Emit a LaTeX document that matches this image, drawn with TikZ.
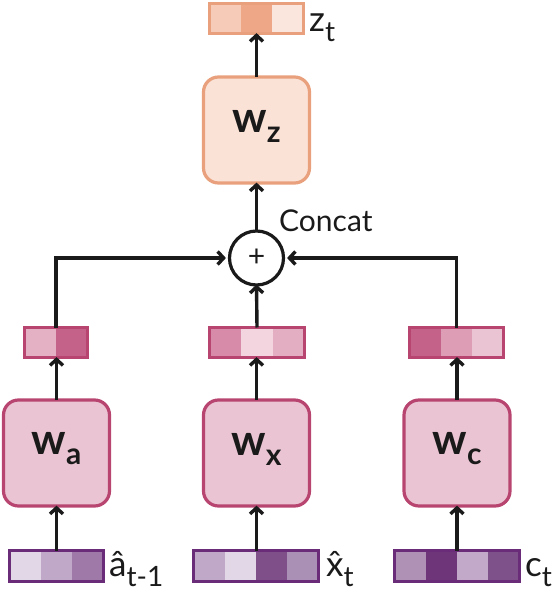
\documentclass[tikz,border=0pt]{standalone}
\usepackage{fontspec}
\setmainfont{Lato}
\usetikzlibrary{arrows.meta}
\definecolor{orb}{HTML}{E9A07C}
\definecolor{orf}{HTML}{FBE2D7}
\definecolor{zA}{HTML}{F6CCB8}
\definecolor{zB}{HTML}{EEA888}
\definecolor{zC}{HTML}{FBE6DD}
\definecolor{pkb}{HTML}{B8456F}
\definecolor{pkf}{HTML}{EAC4D2}
\definecolor{aA}{HTML}{E4B0C3}
\definecolor{aB}{HTML}{C4628A}
\definecolor{xA}{HTML}{D88BA9}
\definecolor{xB}{HTML}{F3D5E0}
\definecolor{xC}{HTML}{E4AEC2}
\definecolor{cA}{HTML}{C5628A}
\definecolor{cB}{HTML}{DC9DB5}
\definecolor{cC}{HTML}{EBC4D3}
\definecolor{pub}{HTML}{6A2C79}
\definecolor{iA}{HTML}{E1D7E7}
\definecolor{iB}{HTML}{BFA8C8}
\definecolor{iC}{HTML}{9F7AA9}
\definecolor{iD}{HTML}{7E4F89}
\definecolor{iE}{HTML}{AB90B5}
\definecolor{iF}{HTML}{AE91B4}
\definecolor{iG}{HTML}{6E3579}
\definecolor{iH}{HTML}{C2A8C9}
\definecolor{iI}{HTML}{7F518A}
\definecolor{ink}{HTML}{1A1A1A}
\newcommand{\wlab}[1]{{\bfseries\fontsize{43}{43}\selectfont w}\raisebox{-10pt}{\bfseries\fontsize{30}{30}\selectfont #1}}
\newcommand{\vlab}[2]{{\fontsize{35}{35}\selectfont #1}\raisebox{-10pt}{\fontsize{28}{28}\selectfont #2}}
\newcommand{\xhat}{\ooalign{x\cr\hfil\char"02C6\hfil\cr}}
\tikzset{
  wbox/.style={draw, line width=3.2pt, rounded corners=15pt, minimum width=106pt, minimum height=106pt, inner sep=0pt},
  vecbox/.style={draw, line width=3.2pt, minimum height=30pt, inner sep=0pt},
  conn/.style={draw=ink, line width=3.4pt, -{Straight Barb[length=6pt,width=13pt,line width=3.4pt]}},
  lab/.style={anchor=base west, inner sep=0pt, text=ink},
}
\begin{document}
\begin{tikzpicture}[x=1pt,y=-1pt]
\useasboundingbox (0,0) rectangle (558,593);
% ---- z vector
\fill[zA] (209.5,3.5) rectangle (241,33.5);
\fill[zB] (241,3.5) rectangle (272,33.5);
\fill[zC] (272,3.5) rectangle (303.5,33.5);
\node[vecbox, draw=orb, minimum width=94pt] (zv) at (256.5,18.5) {};
\node[lab] (zl) at (309,32) {\vlab{z}{t}};
% ---- Wz
\node[wbox, draw=orb, fill=orf] (wz) at (256.5,130) {};
\node[text=ink] (wzl) at (256.5,126) {\wlab{z}};
% ---- concat circle
\node[draw=ink, line width=3.2pt, circle, minimum size=54pt, inner sep=0pt] (cc) at (256.5,258) {};
\node[text=ink, inner sep=0pt] (plus) at (256.5,257.5) {\fontsize{30}{30}\selectfont +};
\node[lab] (concat) at (279,232) {\fontsize{30}{30}\selectfont Concat};
% ---- hidden vectors
\fill[aA] (24.5,327.5) rectangle (56,357.5);
\fill[aB] (56,327.5) rectangle (87.5,357.5);
\node[vecbox, draw=pkb, minimum width=63pt] (ha) at (56,342.5) {};
\fill[xA] (209.5,327.5) rectangle (241,357.5);
\fill[xB] (241,327.5) rectangle (273,357.5);
\fill[xC] (273,327.5) rectangle (304.5,357.5);
\node[vecbox, draw=pkb, minimum width=95pt] (hx) at (257,342.5) {};
\fill[cA] (409.5,327.5) rectangle (441,357.5);
\fill[cB] (441,327.5) rectangle (472,357.5);
\fill[cC] (472,327.5) rectangle (503.5,357.5);
\node[vecbox, draw=pkb, minimum width=94pt] (hc) at (456.5,342.5) {};
% ---- W boxes
\node[wbox, draw=pkb, fill=pkf] (wa) at (56.5,453) {};
\node[text=ink] (wal) at (56.5,449) {\wlab{a}};
\node[wbox, draw=pkb, fill=pkf] (wx) at (256.5,453) {};
\node[text=ink] (wxl) at (256.5,449) {\wlab{x}};
\node[wbox, draw=pkb, fill=pkf] (wc) at (457,453) {};
\node[text=ink] (wcl) at (457,449) {\wlab{c}};
% ---- input vectors
\fill[iA] (9.5,550.5) rectangle (41,581.5);
\fill[iB] (41,550.5) rectangle (72,581.5);
\fill[iC] (72,550.5) rectangle (103.5,581.5);
\node[vecbox, draw=pub, minimum width=94pt, minimum height=31pt] (ia) at (56.5,566) {};
\fill[iB] (193.5,550.5) rectangle (224.5,581.5);
\fill[iA] (224.5,550.5) rectangle (256,581.5);
\fill[iD] (256,550.5) rectangle (287,581.5);
\fill[iE] (287,550.5) rectangle (318.5,581.5);
\node[vecbox, draw=pub, minimum width=125pt, minimum height=31pt] (ix) at (256,566) {};
\fill[iF] (394.5,550.5) rectangle (425.5,581.5);
\fill[iG] (425.5,550.5) rectangle (457,581.5);
\fill[iH] (457,550.5) rectangle (488,581.5);
\fill[iI] (488,550.5) rectangle (519.5,581.5);
\node[vecbox, draw=pub, minimum width=125pt, minimum height=31pt] (ic) at (457,566) {};
\node[lab] (ial) at (109,576) {\vlab{â}{t-1}};
\node[lab] (ixl) at (326,576) {\vlab{\xhat}{t}};
\node[lab] (icl) at (525,576) {\vlab{c}{t}};
% ---- connectors
\path[conn] ([yshift=-1.6pt]ia.north -| wa.south) -- ([yshift=2pt]wa.south);
\path[conn] ([yshift=-1.6pt]ix.north -| wx.south) -- ([yshift=2pt]wx.south);
\path[conn] ([yshift=-1.6pt]ic.north -| wc.south) -- ([yshift=2pt]wc.south);
\path[conn] ([yshift=-1.6pt]wa.north) -- ([yshift=2pt]wa.north |- ha.south);
\path[conn] ([yshift=-1.6pt]wx.north) -- ([yshift=2pt]wx.north |- hx.south);
\path[conn] ([yshift=-1.6pt]wc.north) -- ([yshift=2pt]wc.north |- hc.south);
\path[conn] ([yshift=-1.6pt]ha.north) |- ([xshift=-2pt]cc.west);
\path[conn] ([yshift=-1.6pt]hc.north) |- ([xshift=2pt]cc.east);
\path[conn] ([yshift=-1.6pt]hx.north) -- ([yshift=2pt]cc.south);
\path[conn] ([yshift=-1.6pt]cc.north) -- ([yshift=2pt]wz.south);
\path[conn] ([yshift=-1.6pt]wz.north) -- ([yshift=2pt]wz.north |- zv.south);
\end{tikzpicture}
\end{document}
